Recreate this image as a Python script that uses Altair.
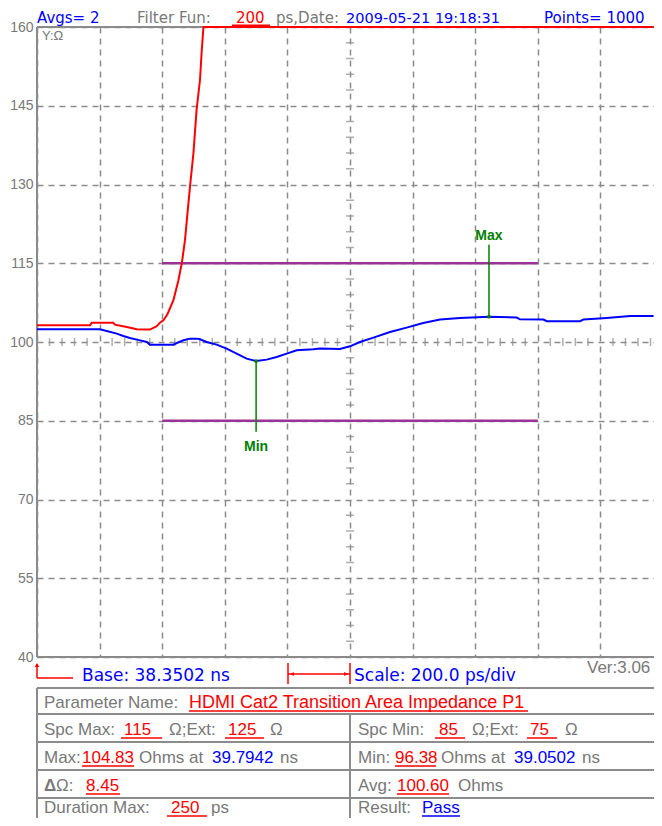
import altair as alt
import pandas as pd

# ---------------- data ----------------
base_ns = 38.3502            # left edge of the trace window (Base)
view_end_ns = 40.3214        # right edge visible in the picture
y_ticks = [40, 55, 70, 85, 100, 115, 130, 145, 160]
x_grid = [38.3502, 38.5502, 38.7502, 38.9502, 39.1502, 39.3502, 39.5502, 39.7502, 39.9502, 40.1502]
center_t = 39.3502
center_v = 100

blue_t = [38.350, 38.551, 38.573, 38.605, 38.626, 38.647, 38.669, 38.701, 38.711, 38.786,
          38.797, 38.818, 38.839, 38.860, 38.871, 38.892, 38.924, 38.956, 38.988, 39.020,
          39.050, 39.084, 39.116, 39.148, 39.180, 39.233, 39.254, 39.318, 39.350, 39.382,
          39.425, 39.478, 39.531, 39.584, 39.638, 39.702, 39.794, 39.883, 39.893, 39.968,
          39.979, 40.085, 40.096, 40.170, 40.245, 40.320]
blue_v = [102.42, 102.42, 102.10, 101.60, 101.15, 100.77, 100.45, 100.00, 99.50, 99.50,
          99.81, 100.32, 100.64, 100.64, 100.51, 100.00, 99.50, 98.74, 97.79, 96.83,
          96.38, 96.64, 97.14, 97.79, 98.42, 98.61, 98.74, 98.65, 99.18, 100.00,
          100.83, 101.90, 102.74, 103.62, 104.27, 104.58, 104.83, 104.65, 104.33, 104.27,
          103.95, 103.95, 104.27, 104.58, 104.96, 104.96]

red_t = [38.350, 38.520, 38.525, 38.594, 38.599, 38.637, 38.669, 38.695, 38.711, 38.722,
         38.733, 38.743, 38.754, 38.765, 38.770, 38.786, 38.802, 38.813, 38.823, 38.829,
         38.839, 38.850, 38.860, 38.871, 38.876, 38.882, 40.320]
red_v = [103.18, 103.18, 103.69, 103.69, 103.30, 102.86, 102.42, 102.36, 102.36, 102.70,
         103.00, 103.69, 104.14, 105.10, 105.72, 107.95, 111.76, 115.06, 119.40, 123.26,
         129.60, 135.98, 144.20, 149.95, 155.04, 160.00, 160.00]

spec_max, spec_min = 115, 85
spec_start, spec_end = 38.7502, 39.9502
max_t, max_v = 39.7942, 104.83
min_t, min_v = 39.0502, 96.38
max_marker_top, max_label_v = 118.5, 119.4
min_marker_bottom, min_label_v = 82.9, 79.2

# ---------------- styling ----------------
FONT = "Liberation Sans"
HFONT = "DejaVu Sans"
GRAY_T = "#787878"
GRID = "#8c8c8c"
BORDER = "#8a8a8a"
BLUE = "#0000ff"
RED = "#ff0000"
GREEN = "#008000"
PURPLE = "#993399"
OX, OY = 37, 27            # page position of plot origin

xs = alt.Scale(domain=[base_ns, view_end_ns], nice=False, zero=False)
ys = alt.Scale(domain=[40, 160], nice=False, zero=False)
XAX = alt.Axis(values=x_grid, labels=False, ticks=False, domain=False, grid=True,
               gridDash=[6, 5], gridColor=GRID, gridWidth=1.5, title=None)
YAX = alt.Axis(values=y_ticks, ticks=False, domain=False, grid=True, gridDash=[6, 5],
               gridColor=GRID, gridWidth=1.5, title=None, labelFont=FONT,
               labelFontSize=14, labelColor=GRAY_T, labelPadding=4)


def X(f="t"):
    return alt.X(f, type="quantitative", scale=xs, axis=XAX, title=None)


def Y(f="v"):
    return alt.Y(f, type="quantitative", scale=ys, axis=YAX, title=None)


ONE = pd.DataFrame({"k": [0]})


def txt(s, px, py, color, size=17, weight="normal", font=FONT, align="left"):
    return alt.Chart(ONE).mark_text(
        text=s, align=align, baseline="alphabetic", font=font, fontSize=size,
        fontWeight=weight, color=color
    ).encode(x=alt.value(px - OX), y=alt.value(py - OY))


def hline(x1, x2, py, color, w=1.5):
    return alt.Chart(ONE).mark_rule(color=color, strokeWidth=w).encode(
        x=alt.value(x1 - OX), x2=alt.value(x2 - OX), y=alt.value(py - OY))


def vline(px, y1, y2, color, w=1.5):
    return alt.Chart(ONE).mark_rule(color=color, strokeWidth=w).encode(
        x=alt.value(px - OX), y=alt.value(y1 - OY), y2=alt.value(y2 - OY))


def sym(shape, px, py, color, size):
    return alt.Chart(ONE).mark_point(shape=shape, filled=True, color=color, size=size,
                                     opacity=1).encode(
        x=alt.value(px - OX), y=alt.value(py - OY))


layers = []

# axes + dashed grid
axes_df = pd.DataFrame({"t": [base_ns], "v": [100]})
layers.append(alt.Chart(axes_df).mark_point(opacity=0).encode(x=X(), y=Y()))

# minor ticks along the centre lines (graticule)
minor_x = [round(base_ns + 0.04 * k, 4) for k in range(1, 50) if k % 5]
minor_y = [40 + 3 * k for k in range(1, 40) if k % 5]
layers.append(
    alt.Chart(pd.DataFrame({"t": minor_x, "v": [center_v] * len(minor_x)}))
    .mark_tick(orient="vertical", color=GRID, size=8, thickness=1.5)
    .encode(x=X(), y=Y())
)
layers.append(
    alt.Chart(pd.DataFrame({"t": [center_t] * len(minor_y), "v": minor_y}))
    .mark_tick(orient="horizontal", color=GRID, size=8, thickness=1.5)
    .encode(x=X(), y=Y())
)

# plot border (left, top, bottom)
border = pd.DataFrame({"t": [base_ns, base_ns, base_ns], "t2": [base_ns, view_end_ns, view_end_ns],
                       "v": [40, 160, 40], "v2": [160, 160, 40]})
layers.append(alt.Chart(border).mark_rule(color=BORDER, strokeWidth=2).encode(
    x=X(), x2="t2", y=Y(), y2="v2"))

# spec limits
lim = pd.DataFrame({"t": [spec_start, spec_start], "t2": [spec_end, spec_end],
                    "v": [spec_max, spec_min]})
layers.append(alt.Chart(lim).mark_rule(color=PURPLE, strokeWidth=2.5).encode(
    x=X(), x2="t2", y=Y()))

# traces
blue_df = pd.DataFrame({"t": blue_t, "v": blue_v, "i": range(len(blue_t))})
red_df = pd.DataFrame({"t": red_t, "v": red_v, "i": range(len(red_t))})
layers.append(alt.Chart(red_df).mark_line(color=RED, strokeWidth=2).encode(
    x=X(), y=Y(), order="i:Q"))
layers.append(alt.Chart(blue_df).mark_line(color=BLUE, strokeWidth=2).encode(
    x=X(), y=Y(), order="i:Q"))

# Max / Min markers
mk = pd.DataFrame({"t": [max_t, min_t], "v": [max_v, min_v],
                   "v2": [max_marker_top, min_marker_bottom]})
layers.append(alt.Chart(mk).mark_rule(color=GREEN, strokeWidth=1.5).encode(
    x=X(), y=Y(), y2="v2"))
layers.append(alt.Chart(mk).mark_point(color=GREEN, filled=True, size=14, opacity=1).encode(
    x=X(), y=Y()))
mk_lab = pd.DataFrame({"t": [max_t, min_t], "v": [max_label_v, min_label_v], "s": ["Max", "Min"]})
layers.append(alt.Chart(mk_lab).mark_text(font=FONT, fontSize=14, fontWeight="bold",
                                          color=GREEN, baseline="alphabetic", align="center")
              .encode(x=X(), y=Y(), text="s:N"))

# Y unit label
layers.append(txt("Y:Ω", 42, 40, GRAY_T, size=13))

# ---------------- header ----------------
HB = 22.5
layers += [
    txt("Avgs= 2", 37, HB, BLUE, size=15, font=HFONT),
    txt("Filter Fun:", 137, HB, GRAY_T, size=15, font=HFONT),
    txt("200", 236, HB, RED, size=15, font=HFONT), hline(232, 270, 25.5, RED, 2),
    txt("ps,Date:", 276, HB, GRAY_T, size=15, font=HFONT),
    txt("2009-05-21 19:18:31", 346, HB, BLUE, size=14.5, font=HFONT),
    txt("Points= 1000", 544, HB, BLUE, size=15, font=HFONT),
]

# ---------------- base / scale row ----------------
BB = 681
layers += [
    vline(37, 664, 678, RED, 1.5), hline(37, 73, 678, RED, 1.5),
    sym("triangle-up", 37, 665, RED, 22),
    txt("Base: 38.3502 ns", 82, BB, BLUE, size=17, font=HFONT),
    hline(288, 350, 674, RED, 1.5), vline(288, 663, 684, RED, 1.5), vline(350, 663, 684, RED, 1.5),
    sym("triangle-left", 292, 674, RED, 18), sym("triangle-right", 346, 674, RED, 18),
    txt("Scale: 200.0 ps/div", 354, BB, BLUE, size=17, font=HFONT),
    txt("Ver:3.06", 587, 673, GRAY_T),
]

# ---------------- result table ----------------
TL = "#8c8c8c"
layers += [
    hline(37, 654, 688, TL, 2), hline(37, 654, 714, TL, 2), hline(37, 654, 742, TL, 2),
    hline(37, 654, 770, TL, 2), hline(37, 654, 798, TL, 2),
    vline(37, 688, 818, TL, 2), vline(350, 714, 818, TL, 2),
]
R1, R2, R3, R4, R5 = 708, 735, 763, 791, 813
layers += [
    txt("Parameter Name:", 44, R1, GRAY_T),
    txt("HDMI Cat2 Transition Area Impedance P1", 189, R1, RED, size=18), hline(189, 528, 711, RED),
    # row 2
    txt("Spc Max:", 44, R2, GRAY_T), txt("115", 124, R2, RED), hline(121, 162, 738, RED),
    txt("Ω;Ext:", 169, R2, GRAY_T), txt("125", 228, R2, RED), hline(225, 264, 738, RED),
    txt("Ω", 270, R2, GRAY_T),
    txt("Spc Min:", 358, R2, GRAY_T), txt("85", 439, R2, RED), hline(435, 465, 738, RED),
    txt("Ω;Ext:", 472, R2, GRAY_T), txt("75", 530, R2, RED), hline(527, 557, 738, RED),
    txt("Ω", 565, R2, GRAY_T),
    # row 3
    txt("Max:", 44, R3, GRAY_T), txt("104.83", 82, R3, RED), hline(82, 134, 766, RED),
    txt("Ohms at", 139, R3, GRAY_T), txt("39.7942", 212, R3, BLUE), txt("ns", 280, R3, GRAY_T),
    txt("Min:", 358, R3, GRAY_T), txt("96.38", 395, R3, RED), hline(395, 436, 766, RED),
    txt("Ohms at", 441, R3, GRAY_T), txt("39.0502", 514, R3, BLUE), txt("ns", 582, R3, GRAY_T),
    # row 4
    txt("Δ", 44, R4, GRAY_T, weight="bold"), txt("Ω:", 56, R4, GRAY_T),
    txt("8.45", 86, R4, RED), hline(86, 120, 794, RED),
    txt("Avg:", 358, R4, GRAY_T), txt("100.60", 397, R4, RED), hline(397, 449, 794, RED),
    txt("Ohms", 458, R4, GRAY_T),
    # row 5
    txt("Duration Max:", 44, R5, GRAY_T), txt("250", 171, R5, RED), hline(167, 207, 816, RED),
    txt("ps", 211, R5, GRAY_T),
    txt("Result:", 358, R5, GRAY_T), txt("Pass", 422, R5, BLUE), hline(422, 460, 816, BLUE),
]

chart = alt.layer(*layers).properties(
    width=617, height=630,
    padding={"left": 29, "top": 19, "right": 0, "bottom": 161},
    autosize=alt.AutoSizeParams(type="none"),
).configure_view(stroke=None)

chart.save("out.html", embed_options={"renderer": "svg", "actions": False})
